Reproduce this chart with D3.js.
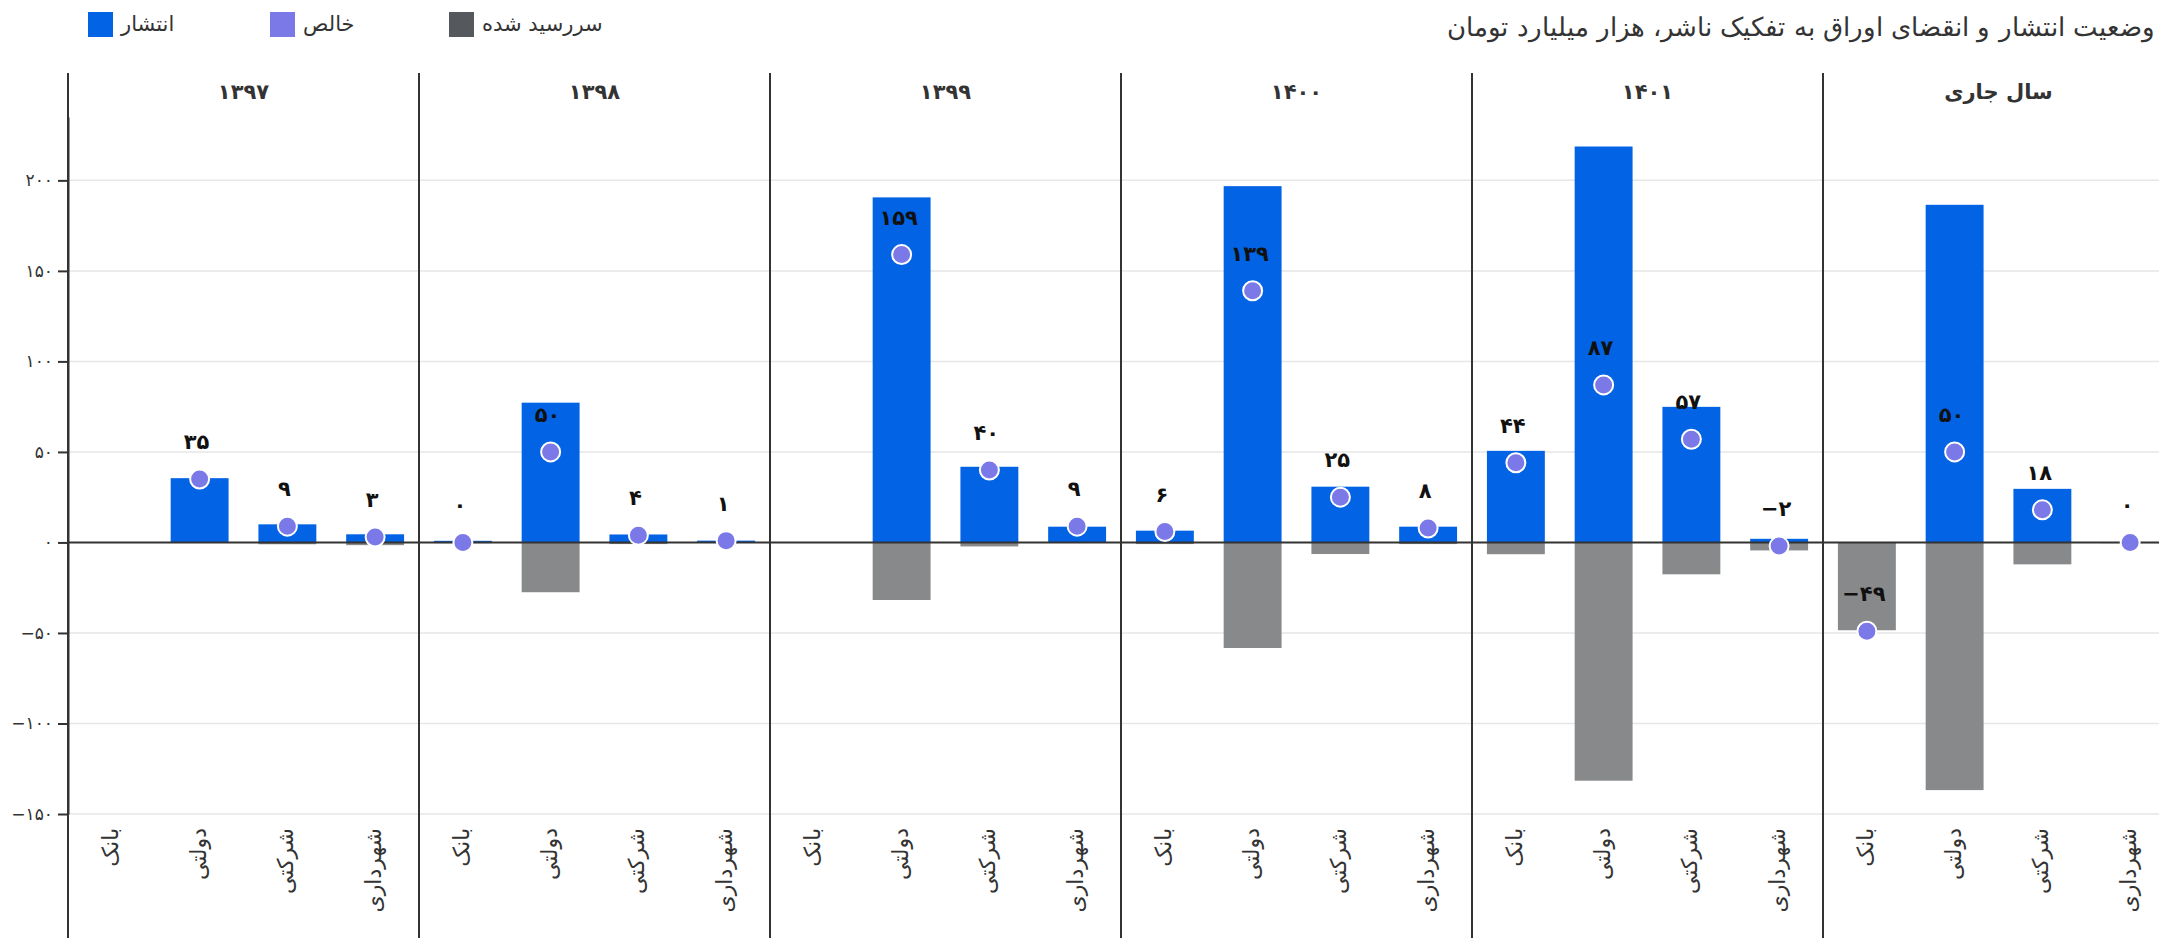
<!DOCTYPE html>
<html><head><meta charset="utf-8">
<script src="https://cdn.jsdelivr.net/npm/d3@7"></script>
<style>
html,body{margin:0;padding:0;background:#fff;overflow:hidden;}
svg{display:block;font-family:"DejaVu Sans","Noto Sans",sans-serif;}
</style></head>
<body>
<svg id="chart" width="2159" height="938"></svg>
<script>
// ---------- data ----------
const title = "وضعیت انتشار و انقضای اوراق به تفکیک ناشر، هزار میلیارد تومان";
const years = ["۱۳۹۷", "۱۳۹۸", "۱۳۹۹", "۱۴۰۰", "۱۴۰۱", "سال جاری"];
const issuers = ["بانک", "دولتی", "شرکتی", "شهرداری"];
const seriesNames = ["انتشار", "خالص", "سررسید شده"];
const yTicks = [-150, -100, -50, 0, 50, 100, 150, 200];
// issuance (انتشار) per year, per issuer
const issuance = [
  [null, 35.5, 10, 4.5],
  [0.9, 77.2, 4.4, 1.0],
  [null, 190.6, 41.8, 8.7],
  [6.5, 196.8, 30.8, 8.7],
  [50.6, 218.7, 74.9, 2.0],
  [0.1, 186.5, 29.6, 0.1]
];
// matured (سررسید شده)
const matured = [
  [null, 0, 1, 1.5],
  [0.4, 27.5, 0.9, 0],
  [null, 31.8, 2.2, 0],
  [0.9, 58.3, 6.4, 0.9],
  [6.5, 131.6, 17.6, 4.4],
  [48.5, 136.8, 12.1, 0.4]
];
// net (خالص)
const net = [
  [null, 35, 9, 3],
  [0, 50, 4, 1],
  [null, 159, 40, 9],
  [6, 139, 25, 8],
  [44, 87, 57, -2],
  [-49, 50, 18, 0]
];

// ---------- styles ----------
const C_BLUE = "#0263e5", C_GRAY = "#88898b", C_PURPLE = "#7b78e8", C_LEG_GRAY = "#55585c";
const INK = "#333";

const fa = v => String(Math.round(v)).replace(/-/g, "−").replace(/[0-9]/g, d => "۰۱۲۳۴۵۶۷۸۹"[+d]);

const svg = d3.select("#chart");
const W = 2159, H = 938;
const left = 68, panelW = 351;

const fx = d3.scaleBand().domain(years).range([left, left + panelW * years.length]).padding(0);
const x = d3.scaleBand().domain(issuers).range([0, panelW]).paddingInner(0.34).paddingOuter(0.17);
const y = d3.scaleLinear().domain([-150, 235]).range([814, 117]);

// title
svg.append("text").attr("x", 2155).attr("y", 28)
  .attr("text-anchor", "end").attr("dominant-baseline", "middle")
  .attr("font-size", 26).attr("font-weight", 300).attr("fill", INK).text(title);

// legend
const legColors = [C_BLUE, C_PURPLE, C_LEG_GRAY];
const legX = [88, 270, 449];
seriesNames.forEach((n, i) => {
  svg.append("rect").attr("x", legX[i]).attr("y", 12).attr("width", 25).attr("height", 25).attr("fill", legColors[i]);
  svg.append("text").attr("x", legX[i] + 33).attr("y", 25).attr("dominant-baseline", "middle")
    .attr("font-size", 21).attr("fill", INK).text(n);
});

// gridlines
svg.append("g").selectAll("line").data(yTicks.filter(t => t !== 0)).join("line")
  .attr("x1", left).attr("x2", W).attr("y1", d => y(d)).attr("y2", d => y(d))
  .attr("stroke", "#e6e6e6").attr("stroke-width", 1.5);

// panel dividers
svg.append("g").selectAll("line").data(years).join("line")
  .attr("x1", d => fx(d)).attr("x2", d => fx(d)).attr("y1", 73).attr("y2", H)
  .attr("stroke", INK).attr("stroke-width", 2);

// panel headers
svg.append("g").selectAll("text").data(years).join("text")
  .attr("x", d => fx(d) + panelW / 2).attr("y", 93)
  .attr("text-anchor", "middle").attr("dominant-baseline", "middle")
  .attr("font-size", 21).attr("font-weight", "bold").attr("fill", INK).text(d => d);

// y axis
const yAxis = svg.append("g").attr("transform", `translate(${left},0)`)
  .call(d3.axisLeft(y).tickValues(yTicks).tickSize(10).tickSizeOuter(0).tickFormat(fa));
yAxis.select(".domain").attr("stroke", INK).attr("stroke-width", 2);
yAxis.selectAll(".tick line").attr("stroke", INK).attr("stroke-width", 2);
yAxis.selectAll(".tick text").attr("font-size", 17).attr("fill", INK).attr("x", -15)
  .attr("font-family", "DejaVu Sans");

// marks per panel
years.forEach((yr, yi) => {
  const g = svg.append("g").attr("transform", `translate(${fx(yr)},0)`);
  const rows = issuers.map((iss, ii) => ({
    iss, iss_v: issuance[yi][ii], mat_v: matured[yi][ii], net_v: net[yi][ii]
  }));
  g.selectAll("rect.iss").data(rows.filter(r => r.iss_v != null && r.iss_v > 0)).join("rect")
    .attr("class", "iss")
    .attr("x", d => x(d.iss)).attr("width", x.bandwidth())
    .attr("y", d => y(d.iss_v)).attr("height", d => y(0) - y(d.iss_v))
    .attr("fill", C_BLUE);
  g.selectAll("rect.mat").data(rows.filter(r => r.mat_v != null && r.mat_v > 0)).join("rect")
    .attr("class", "mat")
    .attr("x", d => x(d.iss)).attr("width", x.bandwidth())
    .attr("y", y(0)).attr("height", d => y(-d.mat_v) - y(0))
    .attr("fill", C_GRAY);
});

// zero line
svg.append("line").attr("x1", left).attr("x2", W).attr("y1", y(0)).attr("y2", y(0))
  .attr("stroke", INK).attr("stroke-width", 2);

// dots and labels
years.forEach((yr, yi) => {
  const g = svg.append("g").attr("transform", `translate(${fx(yr)},0)`);
  const rows = issuers.map((iss, ii) => ({ iss, v: net[yi][ii] })).filter(r => r.v != null);
  g.selectAll("circle").data(rows).join("circle")
    .attr("cx", d => x(d.iss) + x.bandwidth() / 2).attr("cy", d => y(d.v)).attr("r", 9.5)
    .attr("fill", C_PURPLE).attr("stroke", "#fff").attr("stroke-width", 2);
  g.selectAll("text.lbl").data(rows).join("text").attr("class", "lbl")
    .attr("x", d => x(d.iss) + x.bandwidth() / 2 - 3).attr("y", d => y(d.v) - 36)
    .attr("text-anchor", "middle").attr("dominant-baseline", "middle")
    .attr("font-size", 21).attr("font-weight", "bold").attr("fill", "#111").text(d => fa(d.v));
  // x labels
  g.selectAll("text.xl").data(issuers).join("text").attr("class", "xl")
    .attr("transform", d => `translate(${x(d) + x.bandwidth() / 2},828) rotate(-90)`)
    .attr("text-anchor", "end").attr("dominant-baseline", "middle")
    .attr("font-size", 22).attr("fill", INK).text(d => d);
});
</script>
</body></html>
